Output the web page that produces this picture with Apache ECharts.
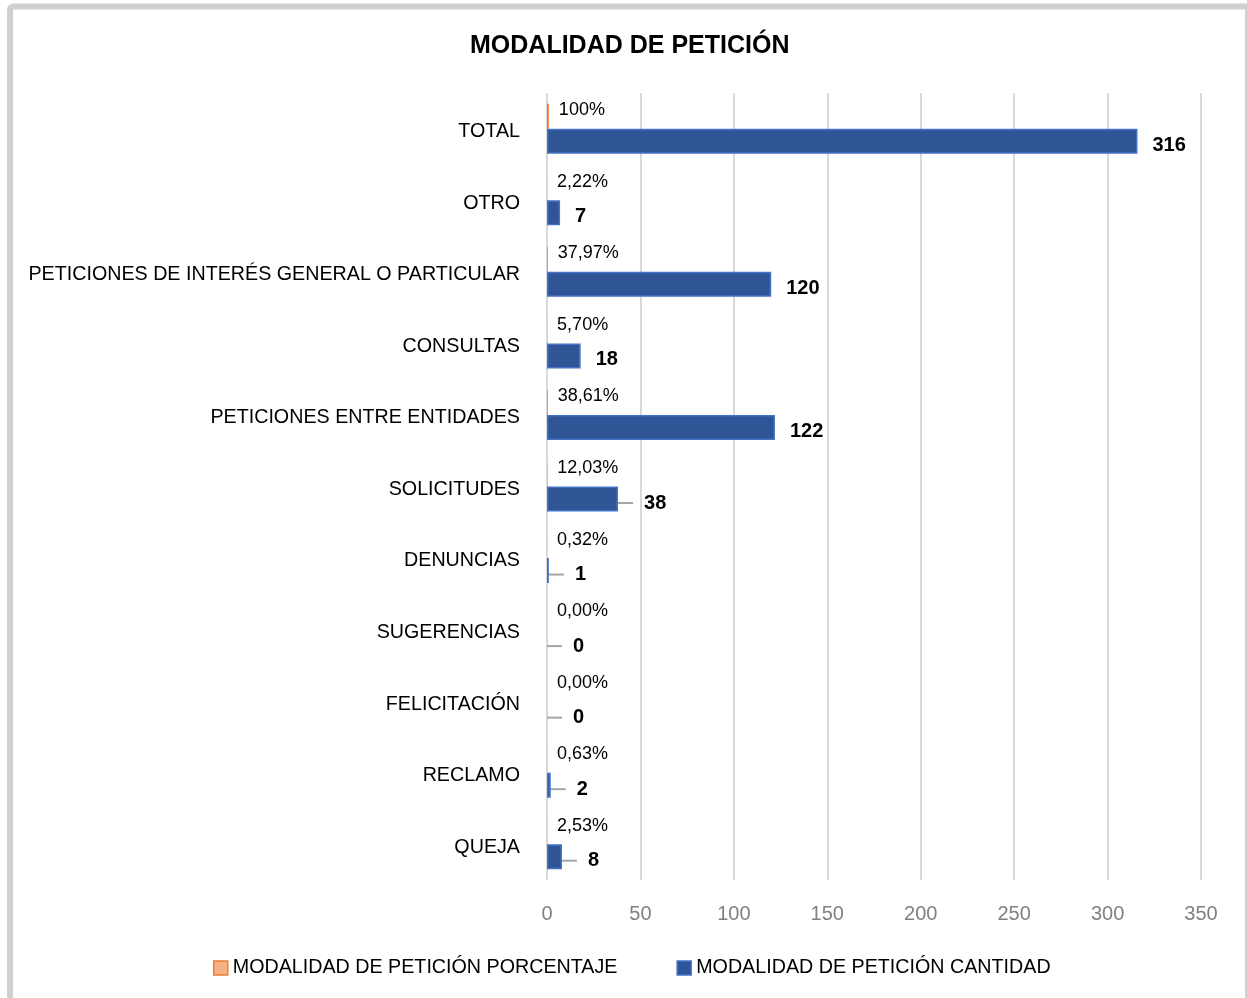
<!DOCTYPE html>
<html>
<head>
<meta charset="utf-8">
<script src="https://cdn.jsdelivr.net/npm/echarts@6/dist/echarts.min.js"></script>
<style>
  html, body { margin: 0; padding: 0; background: #fff; }
  #chart { width: 1247px; height: 998px; }
</style>
</head>
<body>
<div id="chart"></div>
<script>
// categorias de arriba a abajo
const categorias = [
  'TOTAL',
  'OTRO',
  'PETICIONES DE INTERÉS GENERAL O PARTICULAR',
  'CONSULTAS',
  'PETICIONES ENTRE ENTIDADES',
  'SOLICITUDES',
  'DENUNCIAS',
  'SUGERENCIAS',
  'FELICITACIÓN',
  'RECLAMO',
  'QUEJA'
];
// porcentaje (fraccion de 1)
const porcentaje = [1, 0.0222, 0.3797, 0.057, 0.3861, 0.1203, 0.0032, 0, 0, 0.0063, 0.0253];
// cantidad
const cantidad = [316, 7, 120, 18, 122, 38, 1, 0, 0, 2, 8];
const xTicks = [0, 50, 100, 150, 200, 250, 300, 350];

const FONT = "'Liberation Sans Narrow', 'Arial Narrow', 'Liberation Sans', sans-serif";

// etiquetas que en el original van con linea guia
const conGuia = ['SOLICITUDES', 'DENUNCIAS', 'SUGERENCIAS', 'FELICITACIÓN', 'RECLAMO', 'QUEJA'];
const tieneGuia = (i) => conGuia.indexOf(categorias[i]) >= 0;

const fmtPct = (v) => {
  if (v === 1) return '100%';
  return (v * 100).toFixed(2).replace('.', ',') + '%';
};

// datos de cantidad con linea guia solo donde la hay en el original
const datosCantidad = cantidad.map((v, i) => {
  const item = { value: v };
  if (tieneGuia(i)) {
    item.labelLine = { show: true };
  }
  if (v === 0) {
    item.itemStyle = { borderWidth: 0 };
  }
  return item;
});

const chart = echarts.init(document.getElementById('chart'));

const option = {
  animation: false,
  textStyle: { fontFamily: FONT },
  graphic: [
    {
      type: 'rect',
      shape: { x: 10, y: 6.5, width: 1238, height: 1010, r: 3 },
      style: { fill: 'none', stroke: '#d0d0d0', lineWidth: 6 },
      silent: true
    }
  ],
  title: {
    text: 'MODALIDAD DE PETICIÓN',
    left: 465,
    top: 29,
    textStyle: { fontFamily: FONT, fontSize: 25, fontWeight: 'bold', color: '#000' }
  },
  legend: {
    bottom: 15,
    left: 208,
    icon: 'rect',
    itemWidth: 14,
    itemHeight: 14,
    itemGap: 59,
    textStyle: { fontFamily: FONT, fontSize: 19.7, color: '#000' },
    data: [
      {
        name: 'MODALIDAD DE PETICIÓN PORCENTAJE',
        itemStyle: { color: '#f4b183', borderColor: '#ed7d31', borderWidth: 1.5 }
      },
      {
        name: 'MODALIDAD DE PETICIÓN CANTIDAD',
        itemStyle: { color: '#2f5597', borderColor: '#4472c4', borderWidth: 1.5 }
      }
    ]
  },
  grid: { left: 547, right: 46, top: 93, bottom: 118, outerBoundsMode: 'none' },
  xAxis: {
    type: 'value',
    min: xTicks[0],
    max: xTicks[xTicks.length - 1],
    interval: 50,
    axisLine: { show: false },
    axisTick: { show: false },
    axisLabel: { fontFamily: FONT, fontSize: 20, color: '#808080', margin: 24 },
    splitLine: { show: true, lineStyle: { color: '#d9d9d9', width: 2 } }
  },
  yAxis: {
    type: 'category',
    inverse: true,
    data: categorias,
    axisLine: { show: false },
    axisTick: { show: false },
    axisLabel: {
      fontFamily: FONT,
      fontSize: 19.7,
      color: '#000',
      margin: 27,
      formatter: (v) => '{c|' + v + '}',
      rich: { c: { fontFamily: FONT, fontSize: 19.7, color: '#000', padding: [6, 0, 0, 0] } }
    }
  },
  series: [
    {
      name: 'MODALIDAD DE PETICIÓN PORCENTAJE',
      type: 'bar',
      data: porcentaje,
      barWidth: 25,
      barGap: '0%',
      itemStyle: { color: '#ed7d31', borderWidth: 0 },
      label: {
        show: true,
        position: 'right',
        distance: 10,
        offset: [0, -6],
        fontFamily: FONT,
        fontSize: 18,
        color: '#000',
        formatter: (p) => fmtPct(p.value)
      }
    },
    {
      name: 'MODALIDAD DE PETICIÓN CANTIDAD',
      type: 'bar',
      data: datosCantidad,
      barWidth: 25,
      barGap: '0%',
      itemStyle: { color: '#2f5597', borderColor: '#4472c4', borderWidth: 1.5 },
      label: {
        show: true,
        position: 'right',
        distance: 15,
        fontFamily: FONT,
        fontSize: 20,
        fontWeight: 'bold',
        color: '#000',
        formatter: (p) => (tieneGuia(p.dataIndex) ? '\u00a0\u00a0' : '') + p.value
      },
      labelLine: { show: false, lineStyle: { color: '#a6a6a6', width: 2 } },
      labelLayout: () => ({ dy: 4 })
    }
  ]
};

chart.setOption(option);
</script>
</body>
</html>
